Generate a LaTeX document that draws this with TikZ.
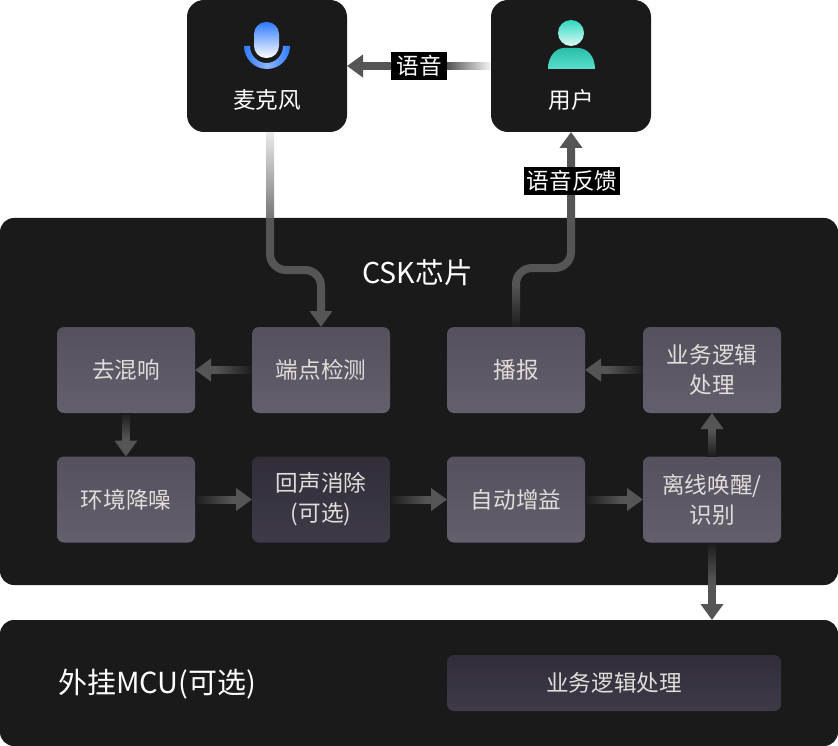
\documentclass[tikz,border=0pt]{standalone}
\usepackage{fontspec}
\setmainfont{Noto Sans CJK SC}
\usetikzlibrary{arrows.meta,fadings}
\definecolor{panel}{HTML}{1A1A1B}
\definecolor{shaft}{HTML}{555555}
\definecolor{stepTop}{HTML}{54505E}
\definecolor{stepBot}{HTML}{645F6D}
\definecolor{optTop}{HTML}{312E3A}
\definecolor{optBot}{HTML}{3E3A48}
\definecolor{txtgrey}{HTML}{E2DDD9}
\definecolor{micblue}{HTML}{2F7BFF}
\definecolor{teal}{HTML}{2FD8C0}
\tikzfading[name=fromleft, left color=transparent!5, right color=transparent!100]
\tikzfading[name=fromright, right color=transparent!5, left color=transparent!100]
\tikzfading[name=fromtop, top color=transparent!5, bottom color=transparent!100]
\tikzfading[name=frombot, bottom color=transparent!5, top color=transparent!100]
\tikzfading[name=fromtopwhite, top color=transparent!12, bottom color=transparent!80]
\tikzset{
  bigpanel/.style={rectangle, rounded corners=14pt, fill=panel, outer sep=0pt, inner sep=0pt},
  topbox/.style={bigpanel, rounded corners=17pt, minimum width=160pt, minimum height=132pt},
  stepbox/.style={rectangle, rounded corners=7pt, top color=stepTop, bottom color=stepBot,
                  minimum width=138pt, minimum height=86pt, inner sep=0pt, outer sep=0pt,
                  align=center, text=txtgrey, font=\fontsize{22.6}{30}\selectfont},
  optbox/.style={stepbox, top color=optTop, bottom color=optBot},
  txt/.style={text=white, inner sep=0pt, font=\fontsize{22.6}{30}\selectfont},
  lbl/.style={fill=black, text=white, inner sep=0pt, minimum height=28pt, font=\fontsize{22.6}{28}\selectfont},
  ar/.style={-{Triangle[length=16pt,width=22pt]}, line width=8pt, draw=shaft},
  cover/.style={fill=panel},
}
\begin{document}
\begin{tikzpicture}[x=1pt,y=-1pt]
\useasboundingbox (0,0) rectangle (838,746);
\node[topbox] (mic) at (267,66) {};
\node[topbox] (user) at (571,66) {};
\node[bigpanel, minimum width=838pt, minimum height=367pt] (chip) at (419,401.5) {};
\node[bigpanel, minimum width=838pt, minimum height=126pt] (mcu) at (419,683) {};
\node[txt] (miclbl) at (267,100) {麦克风};
\node[txt] (userlbl) at (571,100) {用户};
\node[txt, font=\fontsize{28.6}{32}\selectfont] (chiplbl) at (417.5,273) {CSK芯片};
\node[txt, anchor=west, font=\fontsize{29}{32}\selectfont] (mculbl) at (58,684) {外挂MCU(可选)};
\node[stepbox] (derev) at (126,370) {去混响};
\node[stepbox] (vad) at (321,370) {端点检测};
\node[stepbox] (play) at (516,370) {播报};
\node[stepbox] (logic) at (712,370) {业务逻辑\\处理};
\node[stepbox] (denoise) at (126,499.5) {环境降噪};
\node[optbox] (aec) at (321,499.5) {回声消除\\(可选)};
\node[stepbox] (agc) at (516,499.5) {自动增益};
\node[stepbox] (wake) at (712,499.5) {离线唤醒/\\识别};
\node[optbox, minimum width=334pt, minimum height=56pt] (extlogic) at (614,683) {业务逻辑处理};
\draw[ar] (user) -- (mic);
\draw[ar, rounded corners=16pt] ([xshift=3pt]mic.south) |- ([yshift=57pt]vad.north) -- (vad.north);
\draw[ar, rounded corners=16pt] (play.north) |- ([yshift=59pt,xshift=55pt]play.north) -- (user.south);
\foreach \src/\dst in {vad/derev,derev/denoise,denoise/aec,aec/agc,agc/wake,wake/logic,logic/play}
  \draw[ar] (\src) -- (\dst);
\draw[ar] (wake.south) -- (wake.south |- mcu.north);
\foreach \src in {vad,logic}
  \fill[cover, path fading=fromright] ([yshift=-6pt]\src.west) rectangle ([xshift=-36pt,yshift=6pt]\src.west);
\foreach \src in {denoise,aec,agc}
  \fill[cover, path fading=fromleft] ([yshift=-6pt]\src.east) rectangle ([xshift=36pt,yshift=6pt]\src.east);
\fill[cover, path fading=fromtop] ([xshift=-6pt]derev.south) rectangle ([xshift=6pt,yshift=-26pt]derev.south);
\fill[cover, path fading=frombot] ([xshift=-6pt]wake.north) rectangle ([xshift=6pt,yshift=26pt]wake.north);
\fill[cover, path fading=frombot] ([xshift=-6pt]play.north) rectangle ([xshift=6pt,yshift=42pt]play.north);
\fill[cover, path fading=fromtop] ([xshift=-6pt]wake.south) rectangle ([xshift=6pt,yshift=-38pt]wake.south);
\fill[white, path fading=fromtopwhite] ([xshift=-3pt]mic.south) rectangle ([xshift=9pt,yshift=-86pt]mic.south);
\fill[white, path fading=fromright] ([yshift=-6pt]user.west) rectangle ([xshift=-44pt,yshift=6pt]user.west);
\node[lbl, minimum width=56pt] (voicelbl) at (419,66) {语音};
\node[lbl, minimum width=96pt] (backlbl) at (572,181) {语音反馈};
\shade[top color=micblue, bottom color=white, rounded corners=12pt] (254,22) rectangle (279,58);
\shade[left color=micblue, right color=micblue, middle color=micblue!55!white]
  (244,46) -- (250,46) arc[start angle=180, end angle=0, x radius=16.5, y radius=17]
  -- (290,46) arc[start angle=0, end angle=180, x radius=23, y radius=23] -- cycle;
\shade[top color=teal, bottom color=white!85!teal] (571,33) circle[radius=13];
\shade[top color=teal!88!black, bottom color=teal!80!white] (548,69) .. controls (548,56) and (556,48) .. (564,48) -- (578,48) .. controls (587,48) and (595,56) .. (595,69) -- cycle;
\end{tikzpicture}
\end{document}
